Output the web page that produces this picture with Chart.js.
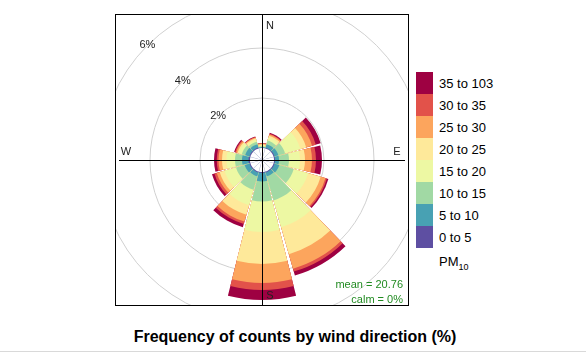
<!DOCTYPE html>
<html>
<head>
<meta charset="utf-8">
<script src="https://cdn.jsdelivr.net/npm/chart.js@4.4.1/dist/chart.umd.min.js"></script>
<style>
  body { margin: 0; width: 586px; height: 353px; background: #fff; position: relative; overflow: hidden;
         font-family: Arial, "Liberation Sans", sans-serif; }
  #panel { position: absolute; left: 115px; top: 14px; width: 294px; height: 292px; box-sizing: border-box;
           border: 1px solid #000; overflow: hidden; }
  #rose { position: absolute; left: -16px; top: -17px; }
  #key { position: absolute; left: 416px; top: 72px; }
  .row { height: 22px; display: flex; align-items: center; }
  .sw { width: 17px; height: 22px; }
  .lab { margin-left: 6px; font-size: 13px; color: #000; }
  #pm { position: absolute; left: 439px; top: 254px; font-size: 13px; color: #000; }
  #pm sub { font-size: 9px; }
  #title { position: absolute; left: 0; width: 590px; top: 328px; text-align: center; font-weight: bold;
           font-size: 16px; color: #000; }
  #rule { position: absolute; left: 0; right: 0; top: 351px; height: 1px; background: #d9d9d9; }
</style>
</head>
<body>
<div id="panel"><canvas id="rose" width="324" height="324"></canvas></div>
<div id="key"></div>
<div id="pm">PM<sub>10</sub></div>
<div id="title">Frequency of counts by wind direction (%)</div>
<div id="rule"></div>
<script>
// wind sectors, clockwise from north (30 degrees each)
const directions = ["N", "NNE", "ENE", "E", "ESE", "SSE", "S", "SSW", "WSW", "W", "WNW", "NNW"];
const binLabels = ["0 to 5", "5 to 10", "10 to 15", "15 to 20", "20 to 25", "25 to 30", "30 to 35", "35 to 103"];
const binColors = ["#5E4FA2", "#48A1B3", "#A1D9A4", "#EDF8A3", "#FEE99A", "#FCA55D", "#E2524A", "#9E0142"];

// frequency (%) of each PM10 band per sector
const pm0_5    = [0.01, 0.03, 0.04, 0.04, 0.04, 0.04, 0.04, 0.04, 0.04, 0.06, 0.04, 0.04];
const pm5_10   = [0.03, 0.15, 0.16, 0.16, 0.20, 0.16, 0.34, 0.16, 0.20, 0.26, 0.18, 0.14];
const pm10_15  = [0.03, 0.15, 0.28, 0.40, 0.60, 1.00, 0.80, 0.56, 0.36, 0.28, 0.14, 0.10];
const pm15_20  = [0.04, 0.12, 0.64, 0.44, 0.60, 1.12, 1.22, 0.64, 0.48, 0.34, 0.12, 0.08];
const pm20_25  = [0.04, 0.08, 0.24, 0.20, 0.52, 1.12, 1.28, 0.40, 0.20, 0.18, 0.06, 0.06];
const pm25_30  = [0.03, 0.05, 0.24, 0.28, 0.20, 0.60, 0.76, 0.28, 0.12, 0.14, 0.06, 0.04];
const pm30_35  = [0.01, 0.03, 0.16, 0.16, 0.06, 0.12, 0.28, 0.10, 0.10, 0.07, 0.04, 0.02];
const pm35_103 = [0.01, 0.04, 0.20, 0.24, 0.06, 0.16, 0.40, 0.14, 0.10, 0.11, 0.04, 0.02];
const bands = [pm0_5, pm5_10, pm10_15, pm15_20, pm20_25, pm25_30, pm30_35, pm35_103];

const ringTicks = [2, 4, 6];
const meanText = "mean = 20.76";
const calmText = "calm = 0%";

const holePct = 0.48;       // empty centre, in % units
const wedgeAngle = 28.2;
const gapAngle = 30 - wedgeAngle;

// legend key, highest band on top
const key = document.getElementById("key");
for (let k = bands.length - 1; k >= 0; k--) {
  const row = document.createElement("div");
  row.className = "row";
  row.innerHTML = `<div class="sw" style="background:${binColors[k]}"></div><span class="lab">${binLabels[k]}</span>`;
  key.appendChild(row);
}

// every sector is followed by a thin empty slot
const labels = [];
directions.forEach(d => { labels.push(d); labels.push(""); });

function stackedTo(k) {
  const out = [];
  directions.forEach((d, i) => {
    let s = 0;
    for (let j = 0; j < k; j++) s += bands[j][i];
    out.push(s, 0);
  });
  return out;
}

// dataset 0 is drawn last (on top): the white centre, then bands from inner to outer
const datasets = [];
for (let k = 0; k <= bands.length; k++) {
  const col = k === 0 ? "#fff" : binColors[k - 1];
  datasets.push({
    label: k === 0 ? "hole" : binLabels[k - 1],
    data: stackedTo(k),
    backgroundColor: c => (k === 0 || c.dataIndex % 2 === 0) ? col : "rgba(0,0,0,0)",
    angle: c => c.dataIndex % 2 === 0 ? wedgeAngle : gapAngle,
    borderWidth: 0
  });
}

const roseDecor = {
  id: "roseDecor",
  afterDatasetsDraw(chart) {
    const r = chart.scales.r;
    const ctx = chart.ctx;
    const cx = r.xCenter, cy = r.yCenter;
    ctx.save();
    ctx.strokeStyle = "#000";
    ctx.lineWidth = 1;
    ctx.beginPath();
    ctx.moveTo(cx - 143, cy + 0.5); ctx.lineTo(cx + 143, cy + 0.5);
    ctx.moveTo(cx + 0.5, cy - 146); ctx.lineTo(cx + 0.5, cy + 146);
    ctx.stroke();

    ctx.font = "11px Arial, 'Liberation Sans', sans-serif";
    ctx.fillStyle = "#222";
    ctx.textAlign = "center";
    ctx.textBaseline = "middle";
    ctx.fillText("N", cx + 8, cy - 134);
    ctx.fillText("E", cx + 135, cy - 8);
    ctx.fillText("S", cx + 8, cy + 136);
    ctx.fillText("W", cx - 136, cy - 8);

    ringTicks.forEach(v => {
      const d = r.getDistanceFromCenterForValue(v) * Math.SQRT1_2;
      ctx.fillText(v + "%", cx - d, cy - d);
    });

    ctx.fillStyle = "#228B22";
    ctx.textAlign = "right";
    ctx.fillText(meanText, cx + 141, cy + 125);
    ctx.fillText(calmText, cx + 141, cy + 140);
    ctx.restore();
  }
};

new Chart(document.getElementById("rose"), {
  type: "polarArea",
  data: { labels: labels, datasets: datasets },
  options: {
    responsive: false,
    animation: false,
    events: [],
    layout: { padding: 0 },
    plugins: { legend: { display: false }, tooltip: { enabled: false } },
    scales: {
      r: {
        min: -holePct,
        max: 6,
        startAngle: -wedgeAngle / 2,
        ticks: { display: false, stepSize: 2 },
        pointLabels: { display: false },
        angleLines: { display: false },
        grid: {
          circular: true,
          lineWidth: 1,
          color: c => (c.tick && ringTicks.includes(c.tick.value)) ? "#d0d0d0" : "rgba(0,0,0,0)"
        }
      }
    }
  },
  plugins: [roseDecor]
});
</script>
</body>
</html>
